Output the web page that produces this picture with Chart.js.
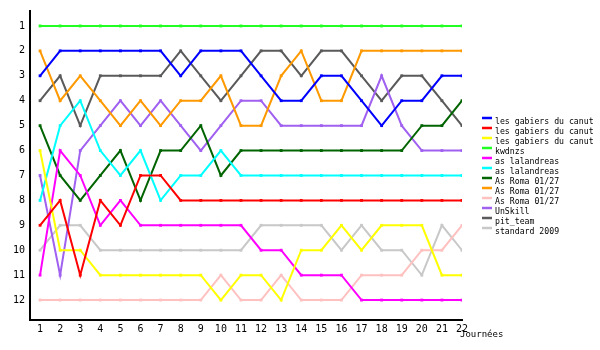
<!DOCTYPE html>
<html>
<head>
<meta charset="utf-8">
<script src="https://cdn.jsdelivr.net/npm/chart.js@4/dist/chart.umd.min.js"></script>
<style>
  html, body { margin: 0; padding: 0; background: #fff; }
  #wrap { width: 600px; height: 350px; }
</style>
</head>
<body>
<div id="wrap"><canvas id="rankChart" width="600" height="350"></canvas></div>
<script>
// Journées (x) and ranks (y)
const journees = [1, 2, 3, 4, 5, 6, 7, 8, 9, 10, 11, 12, 13, 14, 15, 16, 17, 18, 19, 20, 21, 22];
const ranks = [1, 2, 3, 4, 5, 6, 7, 8, 9, 10, 11, 12];

// Classement par équipe
const gabiers1 = [3, 2, 2, 2, 2, 2, 2, 3, 2, 2, 2, 3, 4, 4, 3, 3, 4, 5, 4, 4, 3, 3];
const gabiers2 = [9, 8, 11, 8, 9, 7, 7, 8, 8, 8, 8, 8, 8, 8, 8, 8, 8, 8, 8, 8, 8, 8];
const gabiers3 = [6, 10, 10, 11, 11, 11, 11, 11, 11, 12, 11, 11, 12, 10, 10, 9, 10, 9, 9, 9, 11, 11];
const kwdnzs = [1, 1, 1, 1, 1, 1, 1, 1, 1, 1, 1, 1, 1, 1, 1, 1, 1, 1, 1, 1, 1, 1];
const lalandreas1 = [11, 6, 7, 9, 8, 9, 9, 9, 9, 9, 9, 10, 10, 11, 11, 11, 12, 12, 12, 12, 12, 12];
const lalandreas2 = [8, 5, 4, 6, 7, 6, 8, 7, 7, 6, 7, 7, 7, 7, 7, 7, 7, 7, 7, 7, 7, 7];
const roma1 = [5, 7, 8, 7, 6, 8, 6, 6, 5, 7, 6, 6, 6, 6, 6, 6, 6, 6, 6, 5, 5, 4];
const roma2 = [2, 4, 3, 4, 5, 4, 5, 4, 4, 3, 5, 5, 3, 2, 4, 4, 2, 2, 2, 2, 2, 2];
const roma3 = [12, 12, 12, 12, 12, 12, 12, 12, 12, 11, 12, 12, 11, 12, 12, 12, 11, 11, 11, 10, 10, 9];
const unSkill = [7, 11, 6, 5, 4, 5, 4, 5, 6, 5, 4, 4, 5, 5, 5, 5, 5, 3, 5, 6, 6, 6];
const pitTeam = [4, 3, 5, 3, 3, 3, 3, 2, 3, 4, 3, 2, 2, 3, 2, 2, 3, 4, 3, 3, 4, 5];
const standard2009 = [10, 9, 9, 10, 10, 10, 10, 10, 10, 10, 10, 9, 9, 9, 9, 10, 9, 10, 10, 11, 9, 10];

const teamNames = [
  "les gabiers du canut", "les gabiers du canut", "les gabiers du canut", "kwdnzs",
  "as lalandreas", "as lalandreas", "As Roma 01/27", "As Roma 01/27", "As Roma 01/27",
  "UnSkill", "pit_team", "standard 2009"
];
const teamRanks = [
  gabiers1, gabiers2, gabiers3, kwdnzs, lalandreas1, lalandreas2,
  roma1, roma2, roma3, unSkill, pitTeam, standard2009
];
const teamColors = [
  "#0000ff", "#ff0000", "#ffff00", "#22ff22", "#ff00ff", "#00ffff",
  "#006400", "#ff9900", "#ffc0c0", "#a060f0", "#5a5a5a", "#c8c8c8"
];

const monoFont = "'DejaVu Sans Mono', monospace";

// Legend on the right plus the "Journées" caption
const sideLegend = {
  id: "sideLegend",
  afterDraw(chart) {
    const ctx = chart.ctx;
    ctx.save();
    ctx.font = "8.2px " + monoFont;
    ctx.textBaseline = "middle";
    ctx.textAlign = "left";
    chart.data.datasets.forEach((ds, i) => {
      const y = 118 + i * 10;
      ctx.strokeStyle = ds.borderColor;
      ctx.lineWidth = 2.5;
      ctx.beginPath();
      ctx.moveTo(482, y);
      ctx.lineTo(492, y);
      ctx.stroke();
      ctx.fillStyle = "#000";
      ctx.fillText(ds.label, 495, y + 4);
    });
    ctx.font = "9px " + monoFont;
    ctx.fillText("Journées", 460, 335);
    ctx.restore();
  }
};

new Chart(document.getElementById("rankChart"), {
  type: "line",
  data: {
    datasets: teamNames.map((name, i) => ({
      label: name,
      data: journees.map((j, k) => ({ x: j, y: teamRanks[i][k] })),
      borderColor: teamColors[i],
      backgroundColor: teamColors[i],
      borderWidth: 2,
      pointStyle: "rect",
      pointRadius: 2,
      pointBorderWidth: 0,
      tension: 0
    }))
  },
  options: {
    responsive: false,
    animation: false,
    layout: {
      padding: { top: 10, right: 138, left: 0, bottom: 0 }
    },
    scales: {
      x: {
        type: "linear",
        min: 0.5,
        max: 22,
        afterBuildTicks: scale => { scale.ticks = journees.map(v => ({ value: v })); },
        afterFit: scale => { scale.height = 30; },
        grid: { display: false, drawTicks: false },
        border: { display: true, color: "#000", width: 2 },
        ticks: {
          color: "#000",
          padding: 3,
          maxRotation: 0,
          autoSkip: false,
          font: { family: monoFont, size: 10 }
        }
      },
      y: {
        type: "linear",
        reverse: true,
        min: 0.4,
        max: 12.8,
        afterBuildTicks: scale => { scale.ticks = ranks.map(v => ({ value: v })); },
        afterFit: scale => { scale.width = 30; },
        grid: { display: false, drawTicks: false },
        border: { display: true, color: "#000", width: 2 },
        ticks: {
          color: "#000",
          padding: 5,
          autoSkip: false,
          font: { family: monoFont, size: 10 }
        }
      }
    },
    plugins: {
      legend: { display: false },
      tooltip: { enabled: false }
    }
  },
  plugins: [sideLegend]
});
</script>
</body>
</html>
